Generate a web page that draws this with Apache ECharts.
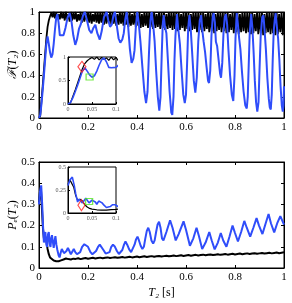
<!DOCTYPE html>
<html><head><meta charset="utf-8">
<script src="https://cdn.jsdelivr.net/npm/echarts@6/dist/echarts.min.js"></script>
<style>html,body{margin:0;padding:0;background:#fff}#c{width:292px;height:303px}</style>
</head><body><div id="c"></div>
<script>
// ---------- DATA ----------
// Top panel: fidelity F(T2)
const tBlueTop = [0,0.005,0.01,0.015,0.02,0.025,0.03,0.035,0.04,0.045,0.05,0.055,0.06,0.065,0.07,0.075,0.08,0.085,0.09,0.1,
0.108,0.117,0.125,0.132,0.14,0.148,0.155,0.163,0.17,0.18,0.187,0.195,0.205,0.214,0.222,0.23,0.238,0.248,0.256,0.265,0.276,0.283,0.29,0.297,0.304,0.31,0.317,0.325,0.332,0.34,0.346,0.352,0.358,0.364,0.371,0.378,0.385,0.39,0.395,0.401,0.407,0.414,0.422,0.43,0.437,0.443,0.449,0.455,0.46,0.466,0.472,0.478,0.485,0.491,0.496,0.501,0.505,0.509,0.514,0.52,0.526,0.533,0.54,0.544,0.549,0.553,0.557,0.563,0.568,0.575,0.582,0.589,0.595,0.6,0.605,0.609,0.614,0.619,0.625,0.632,0.638,0.644,0.65,0.656,0.662,0.667,0.672,0.678,0.684,0.69,0.694,0.699,0.704,0.709,0.713,0.718,0.722,0.727,0.733,0.739,0.743,0.748,0.753,0.758,0.763,0.768,0.773,0.78,0.787,0.793,0.798,0.802,0.807,0.812,0.817,0.822,0.828,0.835,0.842,0.848,0.852,0.856,0.86,0.866,0.871,0.876,0.881,0.886,0.891,0.896,0.9,0.905,0.911,0.916,0.921,0.926,0.932,0.938,0.942,0.946,0.95,0.954,0.958,0.962,0.966,0.971,0.976,0.981,0.986,0.991,0.995,0.998,1.0];
const fBlueTop = [0,0.03,0.13,0.26,0.40,0.55,0.70,0.77,0.70,0.62,0.57,0.60,0.70,0.83,0.94,0.98,0.90,0.78,0.77,0.78,
0.85,0.95,0.99,0.92,0.78,0.69,0.74,0.84,0.88,0.97,1.0,0.93,0.83,0.80,0.85,0.88,0.80,0.74,0.82,0.95,1.0,0.92,0.86,0.88,0.97,1.0,0.88,0.75,0.71,0.74,0.80,0.93,1.0,0.86,0.65,0.52,0.56,0.64,0.85,1.0,0.90,0.72,0.48,0.25,0.14,0.25,0.62,0.92,1.0,0.88,0.72,0.45,0.20,0.07,0.20,0.60,0.88,0.97,0.86,0.80,0.55,0.25,0.05,0.03,0.20,0.55,0.78,0.98,0.85,0.70,0.45,0.22,0.14,0.22,0.55,0.85,0.97,0.85,0.62,0.35,0.24,0.38,0.72,0.92,0.97,0.82,0.72,0.62,0.48,0.35,0.33,0.45,0.78,0.95,0.99,0.90,0.72,0.68,0.55,0.42,0.38,0.52,0.80,0.95,0.98,0.88,0.65,0.40,0.22,0.16,0.40,0.75,0.99,0.88,0.75,0.65,0.45,0.25,0.12,0.09,0.20,0.50,0.80,0.98,0.85,0.62,0.35,0.15,0.06,0.15,0.45,0.78,0.95,0.97,0.82,0.65,0.38,0.18,0.10,0.08,0.22,0.55,0.82,0.92,0.99,0.86,0.75,0.55,0.30,0.12,0.06,0.12,0.30];

const tBlackRise = [0,0.005,0.01,0.015,0.02,0.025,0.03,0.035,0.04,0.045];
const fBlackRise = [0,0.02,0.16,0.30,0.45,0.60,0.75,0.86,0.92,0.96];
// fast oscillation, sampled every 0.005 from t = 0.05 to 1
const blackOscStart = 0.05, blackOscStep = 0.005;
const fBlackOsc = [
0.99,0.95,1.0,0.94,0.99,0.95,0.98,0.93,1.0,0.94,
0.99,0.92,1.0,0.93,0.98,0.91,1.0,0.92,0.99,0.93,
1.0,0.91,0.98,0.92,1.0,0.90,0.99,0.91,1.0,0.92,
0.99,0.90,1.0,0.89,0.98,0.91,1.0,0.90,0.99,0.89,
1.0,0.90,0.99,0.88,1.0,0.89,0.98,0.90,1.0,0.88,
0.99,0.89,1.0,0.87,0.98,0.88,1.0,0.89,0.99,0.87,
1.0,0.88,0.99,0.86,1.0,0.87,0.98,0.88,1.0,0.86,
0.99,0.87,1.0,0.85,0.98,0.86,1.0,0.87,0.99,0.85,
1.0,0.86,0.99,0.84,1.0,0.85,0.98,0.86,1.0,0.84,
0.99,0.85,1.0,0.83,0.98,0.84,1.0,0.85,0.99,0.83,
1.0,0.84,0.99,0.82,1.0,0.83,0.98,0.85,1.0,0.82,
0.99,0.84,1.0,0.82,0.98,0.83,1.0,0.84,0.99,0.81,
1.0,0.83,0.99,0.81,1.0,0.82,0.98,0.84,1.0,0.81,
0.99,0.82,1.0,0.80,0.98,0.82,1.0,0.83,0.99,0.81,
1.0,0.82,0.99,0.80,1.0,0.81,0.98,0.83,1.0,0.80,
0.99,0.81,1.0,0.79,0.98,0.81,1.0,0.82,0.99,0.80,
1.0,0.81,0.99,0.79,1.0,0.80,0.98,0.82,1.0,0.79,
0.99,0.80,1.0,0.78,0.98,0.80,1.0,0.81,0.99,0.79,
1.0,0.80,0.99,0.78,1.0,0.79,0.98,0.81,1.0,0.78,
0.99];

// Bottom panel: error probability Pe(T2)
const tBlueBot = [0,0.004,0.009,0.013,0.016,0.02,0.023,0.026,0.03,0.033,0.037,0.04,0.044,0.047,0.05,0.053,0.057,0.06,0.064,0.067,0.071,0.075,0.08,0.084,0.088,0.093,0.098,0.102,0.106,0.112,0.118,0.124,0.13,0.136,0.142,0.148,0.155,0.16,0.168,0.176,0.185,0.193,0.2,0.21,0.218,0.225,0.233,0.241,0.248,0.255,0.263,0.272,0.28,0.288,0.295,0.302,0.31,0.318,0.326,0.333,0.34,0.347,0.353,0.36,0.368,0.376,0.383,0.39,0.396,0.402,0.408,0.415,0.422,0.428,0.434,0.44,0.446,0.452,0.459,0.466,0.472,0.478,0.484,0.49,0.496,0.502,0.508,0.52,0.535,0.545,0.558,0.57,0.59,0.6,0.616,0.63,0.643,0.653,0.666,0.68,0.695,0.705,0.717,0.73,0.742,0.752,0.765,0.778,0.79,0.8,0.812,0.825,0.838,0.848,0.862,0.875,0.888,0.898,0.912,0.925,0.937,0.947,0.96,0.972,0.985,1.0];
const pBlueBot = [0.30,0.36,0.39,0.30,0.21,0.12,0.15,0.17,0.11,0.10,0.16,0.17,0.11,0.10,0.14,0.155,0.12,0.095,0.13,0.15,0.11,0.085,0.06,0.05,0.07,0.09,0.09,0.07,0.065,0.08,0.095,0.08,0.065,0.07,0.09,0.075,0.065,0.062,0.075,0.10,0.112,0.117,0.10,0.075,0.065,0.062,0.08,0.10,0.11,0.105,0.085,0.068,0.062,0.075,0.10,0.11,0.10,0.08,0.066,0.065,0.085,0.11,0.125,0.11,0.088,0.075,0.082,0.11,0.135,0.148,0.13,0.105,0.09,0.10,0.14,0.175,0.19,0.17,0.13,0.115,0.13,0.17,0.205,0.218,0.19,0.14,0.13,0.17,0.225,0.19,0.13,0.16,0.22,0.18,0.105,0.14,0.19,0.15,0.09,0.12,0.17,0.13,0.088,0.12,0.165,0.13,0.10,0.15,0.20,0.165,0.125,0.17,0.222,0.19,0.148,0.19,0.235,0.20,0.16,0.21,0.255,0.21,0.168,0.21,0.245,0.205];

const tBlackBotEarly = [0,0.004,0.008,0.012,0.016,0.02,0.025,0.03,0.035,0.04,0.045,0.05,0.06,0.07,0.08,0.09,0.1,0.11,0.12,0.13,0.14];
const pBlackBotEarly = [0.31,0.36,0.37,0.28,0.19,0.14,0.15,0.13,0.09,0.065,0.05,0.042,0.035,0.032,0.032,0.036,0.04,0.045,0.042,0.04,0.044];
// slow drift, sampled every 0.01 from t = 0.15 to 1
const blackBotStart = 0.15, blackBotStep = 0.01;
const pBlackBotLate = [0.043,0.046,0.042,0.045,0.047,0.044,0.046,0.048,0.045,0.047,
0.049,0.046,0.048,0.050,0.047,0.049,0.051,0.048,0.050,0.052,
0.049,0.051,0.053,0.050,0.052,0.054,0.051,0.053,0.055,0.052,
0.054,0.056,0.053,0.055,0.057,0.054,0.056,0.058,0.055,0.057,
0.059,0.056,0.058,0.060,0.057,0.059,0.061,0.058,0.060,0.062,
0.059,0.061,0.063,0.060,0.062,0.064,0.061,0.063,0.065,0.062,
0.064,0.066,0.063,0.065,0.067,0.064,0.066,0.068,0.065,0.067,
0.069,0.066,0.068,0.070,0.067,0.069,0.071,0.068,0.070,0.072,
0.069,0.071,0.073,0.070,0.072,0.074];

// inset markers [t, value]
const redDiamondTop = [0.029, 0.79];
const greenSquareTop = [0.045, 0.575];
const redDiamondBot = [0.028, 0.085];
const greenSquareBot = [0.044, 0.125];

const xTicksMain = [0, 0.2, 0.4, 0.6, 0.8, 1];
const yTicksTop = [0, 0.2, 0.4, 0.6, 0.8, 1];
const yTicksBot = [0, 0.1, 0.2, 0.3, 0.4, 0.5];
const xTicksInset = [0, 0.05, 0.1];
const yTicksTopInset = [0, 0.5, 1];
const yTicksBotInset = [0, 0.25, 0.5];

// ---------- BUILD ----------
const zip = (a, b) => a.map((v, i) => [v, b[i]]);
const blueTop = zip(tBlueTop, fBlueTop);
const blackTop = zip(tBlackRise, fBlackRise).concat(fBlackOsc.map((v, i) => [+(blackOscStart + i * blackOscStep).toFixed(4), v]));
const blueBot = zip(tBlueBot, pBlueBot);
const blackBot = zip(tBlackBotEarly, pBlackBotEarly).concat(pBlackBotLate.map((v, i) => [+(blackBotStart + i * blackBotStep).toFixed(4), v]));

const FONT = "'Liberation Serif','DejaVu Serif',serif";
const BLUE = '#2f4dfa';

function ax(o) {
  const ticks = o.ticks;
  const base = {
    type: 'value', gridIndex: o.grid, min: ticks[0], max: ticks[ticks.length - 1],
    interval: ticks[1] - ticks[0], position: o.pos,
    axisLine: { show: true, onZero: false, lineStyle: { color: '#000', width: 1 } },
    axisTick: { show: true, inside: true, length: o.inset ? 2 : 3, lineStyle: { color: '#000', width: 1 } },
    splitLine: { show: false },
    axisLabel: o.label ? {
      show: true, fontFamily: FONT, fontSize: o.inset ? 6 : 11, color: o.inset ? '#555' : '#000',
      margin: o.inset ? 2 : 4, formatter: v => String(+v.toFixed(3))
    } : { show: false },
    z: o.inset ? 11 : 0
  };
  if (o.name) {
    base.name = o.name; base.nameLocation = 'middle'; base.nameGap = o.nameGap;
    base.nameMoveOverlap = false;
    base.nameTextStyle = { fontFamily: FONT, fontSize: 12, color: '#000',
      rich: { it: { fontFamily: FONT, fontSize: 12, fontStyle: 'italic', color: '#000' },
              n: { fontFamily: FONT, fontSize: 12, color: '#000' } } };
  }
  return base;
}

const gridStyle = { show: true, borderColor: '#000', borderWidth: 1, backgroundColor: 'transparent', outerBoundsMode: 'none', containLabel: false };
const option = {
  animation: false,
  backgroundColor: '#fff',
  grid: [
    Object.assign({}, gridStyle, { left: 39, top: 12, width: 245, height: 106, z: 1 }),
    Object.assign({}, gridStyle, { left: 68, top: 57, width: 48, height: 47, backgroundColor: '#fff', z: 10 }),
    Object.assign({}, gridStyle, { left: 39, top: 162, width: 245, height: 106, z: 1 }),
    Object.assign({}, gridStyle, { left: 68, top: 167, width: 48, height: 46, backgroundColor: '#fff', z: 10 })
  ],
  xAxis: [
    ax({ grid: 0, ticks: xTicksMain, pos: 'bottom', label: true }),
    ax({ grid: 0, ticks: xTicksMain, pos: 'top', label: false }),
    ax({ grid: 1, ticks: xTicksInset, pos: 'bottom', label: true, inset: true }),
    ax({ grid: 2, ticks: xTicksMain, pos: 'bottom', label: true, name: '{it|T₂} {n|[s]}', nameGap: 19 }),
    ax({ grid: 2, ticks: xTicksMain, pos: 'top', label: false }),
    ax({ grid: 3, ticks: xTicksInset, pos: 'bottom', label: true, inset: true })
  ],
  yAxis: [
    ax({ grid: 0, ticks: yTicksTop, pos: 'left', label: true, name: '{it|ℱ}{n|(}{it|T₂}{n|)}', nameGap: 20 }),
    ax({ grid: 0, ticks: yTicksTop, pos: 'right', label: false }),
    ax({ grid: 1, ticks: yTicksTopInset, pos: 'left', label: true, inset: true }),
    ax({ grid: 2, ticks: yTicksBot, pos: 'left', label: true, name: '{it|Pₑ}{n|(}{it|T₂}{n|)}', nameGap: 20 }),
    ax({ grid: 2, ticks: yTicksBot, pos: 'right', label: false }),
    ax({ grid: 3, ticks: yTicksBotInset, pos: 'left', label: true, inset: true })
  ],
  series: []
};

function line(data, xi, yi, color, width, z) {
  return { type: 'line', data, xAxisIndex: xi, yAxisIndex: yi, showSymbol: false, symbol: 'none',
    lineStyle: { color, width }, z, clip: true, silent: true };
}
function marker(pt, xi, yi, sym, size, color) {
  return { type: 'scatter', data: [pt], xAxisIndex: xi, yAxisIndex: yi, symbol: sym, symbolSize: size,
    itemStyle: { color: 'rgba(0,0,0,0)', borderColor: color, borderWidth: 1.2 }, z: 13, silent: true };
}
option.series.push(
  line(blackTop, 0, 0, '#000', 1.8, 3),
  line(blueTop, 0, 0, BLUE, 2, 4),
  line(blackTop, 2, 2, '#000', 1.2, 12),
  line(blueTop, 2, 2, BLUE, 1.6, 12),
  marker(redDiamondTop, 2, 2, 'diamond', [8, 11], '#ff2222'),
  marker(greenSquareTop, 2, 2, 'rect', [7, 6], '#55e622'),
  line(blackBot, 3, 3, '#000', 2, 3),
  line(blueBot, 3, 3, BLUE, 2, 4),
  line(blackBot, 5, 5, '#000', 1.2, 12),
  line(blueBot, 5, 5, BLUE, 1.6, 12),
  marker(redDiamondBot, 5, 5, 'diamond', [7, 11], '#ff2222'),
  marker(greenSquareBot, 5, 5, 'rect', [7, 6], '#55e622')
);

const chart = echarts.init(document.getElementById('c'), null, { renderer: 'canvas' });
chart.setOption(option);
</script>
</body></html>
